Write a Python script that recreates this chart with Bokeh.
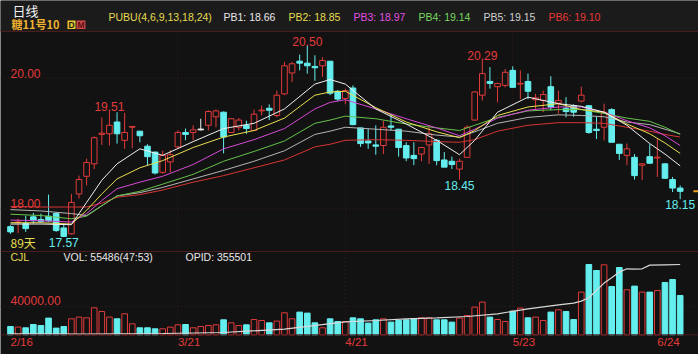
from bokeh.plotting import figure
from bokeh.models import Range1d, Span, Label, ColumnDataSource, BoxAnnotation
from bokeh.core.properties import value
from bokeh.embed import file_html
from bokeh.resources import INLINE

# ---------------- data ----------------
opens = [17.73,17.79,17.78,17.88,17.84,17.89,17.93,17.71,17.62,18.23,
         18.50,18.69,19.14,19.15,19.33,19.05,19.25,19.19,18.96,18.87,
         18.56,18.72,18.95,19.17,19.17,19.21,19.28,19.41,19.48,19.17,
         19.25,19.28,19.20,19.50,19.54,19.43,19.76,20.08,20.26,20.23,
         20.18,20.19,20.26,19.80,19.69,19.85,19.24,19.04,18.98,18.97,
         19.27,19.22,18.97,18.82,18.84,18.98,19.05,18.75,18.73,18.61,
         18.79,19.36,19.74,19.95,19.87,19.89,20.12,19.91,19.95,19.67,
         19.66,19.87,19.62,19.54,19.58,19.65,19.58,19.22,19.25,19.52,
         18.99,18.82,18.79,18.67,18.80,18.78,18.69,18.45,18.32]
highs = [17.75,17.85,17.90,17.94,17.93,18.22,17.95,17.77,18.23,18.51,
         18.77,19.11,19.40,19.51,19.48,19.47,19.26,19.19,18.99,18.88,
         18.89,18.90,19.20,19.23,19.28,19.38,19.51,19.52,19.49,19.39,
         19.39,19.35,19.52,19.58,19.60,19.81,20.25,20.25,20.36,20.50,
         20.35,20.32,20.26,19.82,19.84,19.89,19.24,19.23,19.28,19.35,
         19.45,19.22,19.02,19.02,18.95,19.28,19.07,18.87,18.80,18.77,
         19.28,19.80,20.29,20.17,19.93,20.14,20.18,20.12,20.07,19.76,
         19.81,20.03,19.81,19.71,19.60,19.87,19.59,19.41,19.61,19.54,
         18.99,19.00,18.84,18.70,18.99,19.07,18.70,18.49,18.36]
lows = [17.62,17.63,17.65,17.78,17.79,17.80,17.65,17.57,17.61,18.16,
        18.36,18.61,18.98,18.97,19.00,18.92,18.93,19.02,18.67,18.53,
        18.54,18.56,18.92,19.05,19.05,19.20,19.20,19.25,18.85,19.17,
        19.20,19.15,19.20,19.43,19.36,19.40,19.74,19.94,20.12,20.07,
        19.96,20.02,19.74,19.65,19.60,19.28,18.95,18.92,18.83,18.84,
        19.20,18.80,18.73,18.67,18.73,18.69,18.67,18.64,18.61,18.45,
        18.79,19.35,19.66,19.84,19.63,19.86,19.86,19.68,19.68,19.52,
        19.48,19.51,19.46,19.40,19.41,19.63,19.15,19.07,19.05,19.02,
        18.75,18.67,18.45,18.44,18.69,18.49,18.46,18.26,18.15]
closes = [17.65,17.80,17.70,17.82,17.81,17.82,17.67,17.58,18.10,18.45,
          18.71,19.09,19.16,19.28,19.15,19.17,19.26,19.12,18.80,18.55,
          18.82,18.83,19.17,19.14,19.21,19.21,19.49,19.50,19.10,19.38,
          19.36,19.23,19.45,19.51,19.51,19.74,20.19,20.22,20.23,20.19,
          20.16,20.27,19.77,19.68,19.81,19.29,19.00,19.01,18.96,19.25,
          19.25,18.94,18.78,18.77,18.94,19.15,18.74,18.64,18.68,18.73,
          19.25,19.79,20.07,19.92,19.92,20.09,19.86,19.92,19.80,19.70,
          19.75,19.56,19.66,19.49,19.48,19.74,19.17,19.20,19.48,19.02,
          18.85,18.92,18.51,18.69,18.70,18.79,18.47,18.32,18.27]
volumes = [11720,10870,9880,14540,13130,23580,9460,11720,22590,24990,
           24000,38120,32900,24990,22590,29650,15530,9880,9880,8470,
           8470,10870,14120,14540,9880,11720,13130,14120,21180,16940,
           13130,14120,21600,20190,16940,19340,31060,22590,32050,30640,
           16940,9880,22590,18780,18780,24000,22590,16520,21180,22590,
           17930,20190,21180,22590,24000,24000,21180,21180,17930,23580,
           27250,39110,46170,24990,21600,18780,33460,37700,24000,24990,
           20190,32050,35300,32900,21600,60290,99260,90790,98840,68200,
           95030,63540,68760,60290,60290,62550,73850,78080,55486]

# open interest (white line in the volume panel)
oi_idx = [0,10,20,28,36,44,48,52,56,60,64,68,72,74,75,76,78,79,80,81,82,83,84,86,88]
oi_vals = [93800,92600,94900,98700,111500,139100,144000,150400,154200,159100,
           169300,188200,203300,209700,217300,229700,285200,305200,326800,339200,
           338100,339200,353200,354300,355501]

# PUBU waterfall lines
pb_idx = [0,4,8,10,12,14,17,20,24,28,32,36,40,42,44,48,52,56,59,61,64,68,72,75,78,81,84,86,88]
pb1 = [17.77,17.77,17.76,18.10,18.44,18.69,18.92,18.82,19.03,19.23,19.31,19.53,19.91,19.98,19.91,
       19.53,19.30,19.05,18.83,19.05,19.48,19.71,19.61,19.57,19.48,19.28,19.00,18.84,18.66]
pb2 = [17.79,17.79,17.77,17.98,18.23,18.46,18.63,18.74,18.94,19.10,19.20,19.39,19.74,19.79,19.80,
       19.55,19.33,19.18,19.09,19.20,19.43,19.56,19.61,19.52,19.48,19.30,19.15,19.01,18.85]
pb3 = [17.83,17.82,17.80,17.93,18.13,18.31,18.41,18.50,18.68,18.92,19.06,19.23,19.53,19.63,19.67,
       19.53,19.38,19.24,19.12,19.22,19.39,19.51,19.56,19.56,19.48,19.35,19.24,19.12,18.97]
pb4 = [17.92,17.90,17.85,17.89,18.05,18.20,18.27,18.38,18.53,18.73,18.88,19.04,19.31,19.36,19.42,
       19.38,19.30,19.24,19.20,19.28,19.40,19.50,19.52,19.52,19.46,19.39,19.34,19.25,19.14]
pb5 = [17.99,17.97,17.93,17.90,18.05,18.20,18.25,18.33,18.46,18.59,18.73,18.89,19.14,19.19,19.25,
       19.22,19.19,19.13,19.10,19.18,19.31,19.40,19.44,19.43,19.41,19.33,19.29,19.22,19.15]
pb6 = [18.04,18.03,18.03,18.03,18.09,18.18,18.22,18.29,18.41,18.51,18.63,18.75,18.95,18.99,19.05,
       19.06,19.05,19.03,19.02,19.06,19.19,19.28,19.32,19.32,19.31,19.25,19.19,19.14,19.10]

date_idx = [0, 22, 44, 66, 85]
date_labels = ["2/16", "3/21", "4/21", "5/23", "6/24"]
price_ticks = [20.00, 18.00]
vol_ticks = [40000]
high_marks = [13, 39, 62]
low_marks = [7, 59, 88]
pb_names = ["PB1", "PB2", "PB3", "PB4", "PB5", "PB6"]
pb_last = [18.66, 18.85, 18.97, 19.14, 19.15, 19.10]
vol_last = 55486
vol_ratio = "47:53"
opid_last = 355501
n_days = 89

# ---------------- layout / style ----------------
W, H = 698, 354
X0, DX = 10.0, 7.61            # px of first candle, px per candle
PRICE_LO, PRICE_HI, P_TOP, P_BOT = 17.35, 20.714, 31.0, 251.0
VOL_HI, V_TOP, V_BOT = 117600.0, 251.0, 334.3
OI_LO, OI_HI = 90000.0, 404540.0

BG = "#121212"
HEADER_BG = "#1b1b1b"
RED = "#e23b3b"
CYAN = "#64eeee"
GRIDRED = "#4a1c1c"
FAINT = "#2a1a1a"
YELLOW = "#e6dc50"
LATIN = "Liberation Sans"
CJK = "Noto Sans CJK SC"
pb_line_colors = ["#f0f0f0", "#e8e050", "#d64ad6", "#66c24a", "#b4b4b4", "#d83434"]
pb_text_colors = ["#e8e8e8", "#e8dc50", "#e050e0", "#7ad860", "#d0d0d0", "#e83838"]


def frange(lo, hi, top, bot):
    s = (hi - lo) / (bot - top)
    return Range1d(lo - (H - bot) * s, hi + top * s)


xr = Range1d(-X0 / DX, (W - X0) / DX)
yr = frange(PRICE_LO, PRICE_HI, P_TOP, P_BOT)

p = figure(width=W, height=H, x_range=xr, y_range=yr, output_backend="svg",
           toolbar_location=None, min_border=0, x_axis_location=None,
           y_axis_location=None, background_fill_color=BG, border_fill_color=BG)
p.outline_line_color = None
p.xgrid.grid_line_color = None
p.ygrid.grid_line_color = None
p.extra_y_ranges = {"vol": frange(0, VOL_HI, V_TOP, V_BOT),
                    "oi": frange(OI_LO, OI_HI, V_TOP, V_BOT)}


def px_x(px):
    return xr.start + px / DX


def px_y(px):
    return yr.end - px * (yr.end - yr.start) / H


# header strip
p.add_layout(BoxAnnotation(top=yr.end, bottom=PRICE_HI, left=xr.start, right=xr.end,
                           fill_color=HEADER_BG, fill_alpha=1, line_color=None, level="underlay"))

# panel borders
p.add_layout(Span(location=PRICE_HI, dimension="width", line_color=GRIDRED, line_width=1))
p.add_layout(Span(location=PRICE_LO, dimension="width", line_color=GRIDRED, line_width=1))
p.add_layout(Span(location=0, dimension="width", line_color=GRIDRED, line_width=1, y_range_name="vol"))

# faint grid
p.segment(x0=date_idx[1:4], y0=[PRICE_LO] * 3, x1=date_idx[1:4], y1=[PRICE_HI] * 3,
          line_color=FAINT, line_width=1, line_dash="2 2")
p.segment(x0=date_idx[1:4], y0=[0] * 3, x1=date_idx[1:4], y1=[VOL_HI] * 3,
          line_color=FAINT, line_width=1, line_dash="2 2", y_range_name="vol")
p.segment(x0=[xr.start] * len(price_ticks), y0=price_ticks, x1=[xr.end] * len(price_ticks),
          y1=price_ticks, line_color=FAINT, line_width=1, line_dash="2 2")
p.segment(x0=[xr.start], y0=vol_ticks, x1=[xr.end], y1=vol_ticks, line_color=FAINT,
          line_width=1, line_dash="2 2", y_range_name="vol")

# ---------------- candles ----------------
n = len(opens)
idx = list(range(n))
col, fill, top, bot = [], [], [], []
for o, c in zip(opens, closes):
    if c > o:
        col.append(RED); fill.append(BG)
    elif c < o:
        col.append(CYAN); fill.append(CYAN)
    else:
        col.append("#f0f0f0"); fill.append("#f0f0f0")
    lo_b, hi_b = min(o, c), max(o, c)
    if hi_b - lo_b < 0.012:
        hi_b = lo_b + 0.012
    top.append(hi_b); bot.append(lo_b)

src = ColumnDataSource(dict(x=idx, o=opens, h=highs, l=lows, c=closes,
                            top=top, bot=bot, col=col, fill=fill))
p.segment(x0="x", y0="h", x1="x", y1="l", line_color="col", line_width=1, source=src)
p.vbar(x="x", width=0.74, top="top", bottom="bot", fill_color="fill",
       line_color="col", line_width=1, source=src)

# waterfall lines
for vals, c in zip([pb6, pb5, pb4, pb3, pb2, pb1], pb_line_colors[::-1]):
    p.line(pb_idx, vals, line_color=c, line_width=1)

# ---------------- volume ----------------
vcol = [RED if c >= o else CYAN for o, c in zip(opens, closes)]
vfill = [BG if c >= o else CYAN for o, c in zip(opens, closes)]
vsrc = ColumnDataSource(dict(x=idx, v=volumes, col=vcol, fill=vfill))
p.vbar(x="x", width=0.74, top="v", bottom=0, fill_color="fill", line_color="col",
       line_width=1, source=vsrc, y_range_name="vol")
p.line(oi_idx, oi_vals, line_color="#d8d8d8", line_width=1.2, y_range_name="oi")

# ---------------- texts ----------------
p.text(x=[0] * len(price_ticks), y=price_ticks, text=[f"{v:.2f}" for v in price_ticks],
       text_color=RED, text_font=value(LATIN), text_font_size="12px",
       text_align="left", text_baseline="middle", y_offset=-5)
p.text(x=[0], y=vol_ticks, text=[f"{v:.2f}" for v in vol_ticks], text_color=RED,
       text_font=value(LATIN), text_font_size="12px", text_align="left",
       text_baseline="middle", y_offset=-6, y_range_name="vol")
p.text(x=date_idx, y=[0] * len(date_idx), text=date_labels, text_color=RED,
       text_font=value(LATIN), text_font_size="11.5px", text_align="left",
       text_baseline="middle", y_offset=7.5, y_range_name="vol")
p.text(x=high_marks, y=[highs[i] for i in high_marks],
       text=[f"{highs[i]:.2f}" for i in high_marks], text_color=RED,
       text_font=value(LATIN), text_font_size="12px", text_align="center",
       text_baseline="bottom", y_offset=1)
p.text(x=low_marks, y=[lows[i] for i in low_marks],
       text=[f"{lows[i]:.2f}" for i in low_marks], text_color=CYAN,
       text_font=value(LATIN), text_font_size="12px", text_align="center",
       text_baseline="top", y_offset=1)
# current price marker
p.scatter(x=[n + 1.2], y=[closes[-1]], marker="dash", size=7, line_color="#f0a020",
          line_width=2)


def lab(text, xpx, ypx, color, size, font=LATIN, style="normal", align="left"):
    p.add_layout(Label(x=px_x(xpx), y=px_y(ypx), text=text, text_color=color,
                       text_font=font, text_font_size=size, text_font_style=style,
                       text_align=align, text_baseline="middle"))


lab("日线", 12, 10, "#f2f2f2", "13px", CJK)
lab("糖11号10", 11, 23.5, "#f0b030", "11px", CJK, "bold")
p.add_layout(BoxAnnotation(left=px_x(67), right=px_x(75), top=px_y(20), bottom=px_y(28.5),
                           fill_color="#e8c830", fill_alpha=1, line_color=None))
p.add_layout(BoxAnnotation(left=px_x(76), right=px_x(85), top=px_y(20), bottom=px_y(28.5),
                           fill_color="#d04848", fill_alpha=1, line_color=None))
lab("D", 71, 24.5, "#1a1a1a", "8.5px", LATIN, "bold", "center")
lab("M", 80.5, 24.5, "#5a1010", "8.5px", LATIN, "bold", "center")

lab("PUBU(4,6,9,13,18,24)", 108, 16.5, YELLOW, "10.5px")
for k, (nm, v) in enumerate(zip(pb_names, pb_last)):
    lab(f"{nm}: {v:.2f}", 223 + 65 * k, 16.5, pb_text_colors[k], "10.5px")

lab(f"{n_days}天", 10, 242, YELLOW, "12px", CJK)
lab("CJL", 10, 256.5, YELLOW, "10.5px")
lab(f"VOL: {vol_last}({vol_ratio})", 63, 256.5, "#e8e8e8", "10.5px")
lab(f"OPID: {opid_last}", 185, 256.5, "#e8e8e8", "10.5px")

open("out.html", "w").write(file_html(p, INLINE))
